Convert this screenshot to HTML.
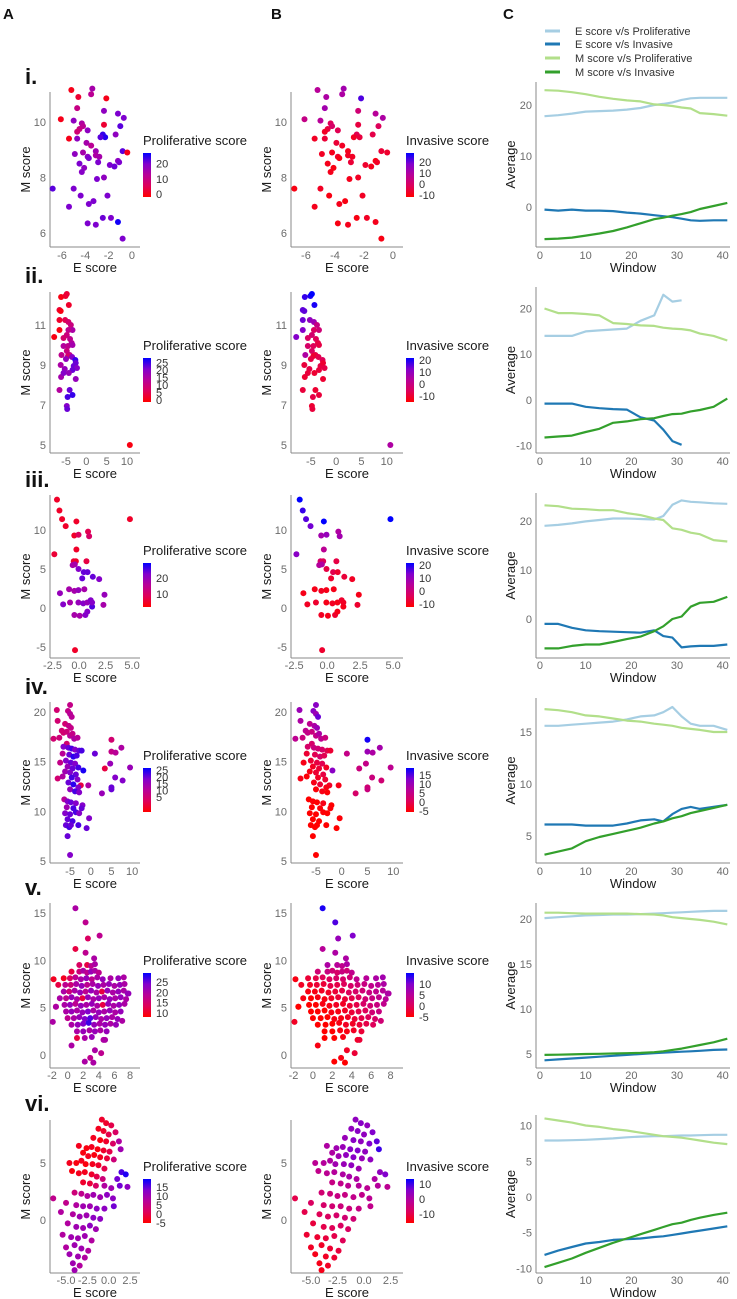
<!DOCTYPE html>
<html><head><meta charset="utf-8"><style>
html,body{margin:0;padding:0;background:#fff;}
svg{display:block;font-family:"Liberation Sans",sans-serif;}
.tk{fill:#6b6b6b;font-size:11px;}
.ti{fill:#1a1a1a;font-size:13px;}
</style></head><body>
<svg id="fig" width="737" height="1299" viewBox="0 0 737 1299">
<defs>
<linearGradient id="cg" x1="0" y1="1" x2="0" y2="0">
<stop offset="0" stop-color="#ff0000"/><stop offset="0.25" stop-color="#de005a"/><stop offset="0.5" stop-color="#b80098"/><stop offset="0.75" stop-color="#8200cd"/><stop offset="1" stop-color="#0000ff"/>
</linearGradient>
</defs>
<text x="3" y="19" font-size="15" font-weight="bold" fill="#111">A</text>
<text x="271" y="19" font-size="15" font-weight="bold" fill="#111">B</text>
<text x="503" y="19" font-size="15" font-weight="bold" fill="#111">C</text>
<g>
<line x1="545" y1="31" x2="560" y2="31" stroke="#a6cee3" stroke-width="3"/>
<text x="575" y="35" font-size="11" fill="#333">E score v/s Proliferative</text>
<line x1="545" y1="44" x2="560" y2="44" stroke="#1f78b4" stroke-width="3"/>
<text x="575" y="48" font-size="11" fill="#333">E score v/s Invasive</text>
<line x1="545" y1="58" x2="560" y2="58" stroke="#b2df8a" stroke-width="3"/>
<text x="575" y="62" font-size="11" fill="#333">M score v/s Proliferative</text>
<line x1="545" y1="72" x2="560" y2="72" stroke="#33a02c" stroke-width="3"/>
<text x="575" y="76" font-size="11" fill="#333">M score v/s Invasive</text>
</g>
</svg>
<script>
// ---------- scatter data: [E score, M score, Proliferative score, Invasive score] ----------
const scatter1 = [[-5.2,11.15,0,8],[-4.6,10.9,2,10],[-3.4,11.2,15,12],[-3.5,11.0,12,10],[-2.2,10.85,0,22],[-4.7,10.5,10,12],[-6.1,10.1,0,5],[-5.0,10.05,18,8],[-4.3,9.95,14,-2],[-4.2,9.85,12,0],[-4.5,9.75,10,-5],[-4.7,9.65,8,-8],[-3.8,9.7,18,-3],[-2.4,10.4,18,2],[-2.4,9.9,2,-5],[-2.5,9.55,24,-3],[-2.3,9.45,25,-5],[-2.7,9.45,22,-8],[-1.2,10.3,20,8],[-0.7,10.15,20,10],[-1.0,9.85,22,-2],[-1.4,9.55,18,-4],[-5.4,9.4,0,-8],[-4.7,9.4,18,-6],[-3.9,9.25,15,-6],[-3.5,9.15,12,-8],[-3.1,8.95,16,-9],[-4.9,8.85,18,-8],[-4.2,8.9,15,-9],[-3.8,8.75,18,-7],[-3.7,8.7,20,-10],[-3.1,8.8,14,-8],[-4.5,8.5,20,-9],[-4.1,8.35,18,-10],[-4.3,8.2,19,-9],[-2.8,8.75,15,-8],[-2.9,8.55,20,-6],[-1.9,8.45,20,-7],[-1.5,8.4,21,-9],[-1.2,8.6,18,-10],[-1.1,8.55,20,-8],[-0.8,8.95,22,-6],[-0.4,8.9,0,-7],[-3.0,7.95,20,-9],[-2.4,8.0,18,-8],[-6.8,7.6,22,-10],[-5.0,7.6,20,-8],[-4.4,7.35,20,-10],[-5.4,6.95,20,-9],[-3.7,7.05,20,-9],[-3.3,7.15,20,-10],[-2.1,7.35,20,-8],[-3.8,6.35,20,-10],[-3.1,6.3,20,-9],[-2.5,6.55,21,-10],[-1.8,6.55,20,-8],[-1.2,6.4,26,-9],[-0.8,5.8,20,-10]];
const scatter2 = [[-6.2,12.4,0,18],[-5.1,12.45,2,20],[-4.8,12.55,3,22],[-4.3,12.0,2,20],[-6.6,11.75,3,15],[-6.3,11.7,0,15],[-6.6,11.25,2,14],[-5.2,11.25,5,10],[-4.4,11.15,8,8],[-6.6,10.75,0,12],[-7.9,10.4,0,12],[-3.8,11.0,10,0],[-3.4,10.75,15,-2],[-4.4,10.75,12,-5],[-4.8,10.5,10,-3],[-5.6,10.35,8,-5],[-4.0,10.3,12,-6],[-3.6,10.1,14,-8],[-5.6,9.95,14,-4],[-4.5,9.95,12,-6],[-3.4,10.0,16,-8],[-4.8,9.7,10,-5],[-4.1,9.5,12,-8],[-4.5,9.45,8,-10],[-3.5,9.4,20,-7],[-6.1,9.5,12,5],[-5.0,9.3,18,-8],[-6.3,9.0,15,-9],[-5.3,8.8,18,-8],[-6.2,8.4,16,-10],[-3.1,8.95,22,-8],[-2.7,9.25,25,-6],[-2.6,9.1,22,-10],[-2.3,8.85,20,-8],[-3.4,8.75,22,-9],[-2.6,8.3,18,-10],[-5.6,8.6,20,-9],[-4.3,8.6,18,-10],[-6.6,7.75,14,-9],[-4.1,7.75,22,-10],[-4.6,7.4,24,-8],[-3.4,7.5,25,-9],[-4.8,6.95,20,-10],[-4.7,6.8,22,-9],[10.7,5.0,0,5]];
const scatter3 = [[-2.08,13.9,5,22],[-1.85,12.5,5,18],[-1.6,11.4,5,16],[-1.26,10.5,5,14],[-2.33,6.9,6,12],[-0.25,11.1,5,22],[-0.45,9.3,5,8],[-0.05,9.4,9,10],[0.85,9.8,8,6],[0.95,9.2,10,8],[-0.25,7.5,5,4],[-0.5,6.0,6,-2],[-0.3,6.0,5,-4],[0.7,6.0,7,-6],[-0.6,5.5,18,5],[-0.4,5.6,18,6],[-0.05,5.0,22,-6],[0.45,4.6,24,-5],[0.8,4.6,24,-8],[0.3,3.8,24,-8],[1.3,4.0,24,-7],[1.9,3.7,22,-9],[-1.8,1.9,20,-10],[-1.5,0.47,22,-9],[-0.94,2.4,18,-10],[-0.85,0.7,18,-8],[-0.44,2.2,18,-9],[-0.06,2.3,20,-10],[0.5,2.4,18,-10],[-0.44,-0.9,18,-9],[0.06,-1.0,18,-10],[0.6,-0.9,22,-8],[0.78,-0.47,22,-10],[-0.06,0.7,20,-10],[0.4,0.6,22,-9],[0.78,0.7,20,-10],[1.1,1.0,22,-8],[1.23,0.17,25,-10],[1.23,0.7,22,-9],[2.4,1.7,20,-10],[2.3,0.4,18,-8],[-0.38,-5.4,5,-8],[4.8,11.4,5,22]];
const scatter4 = [[-8.2,20.2,5,10],[-5.0,20.7,8,12],[-5.5,20.1,8,12],[-5.0,19.8,10,10],[-4.6,19.5,10,14],[-8.0,19.1,5,8],[-6.2,18.8,5,6],[-5.3,18.6,8,8],[-4.8,18.4,8,10],[-7.0,18.1,5,6],[-6.6,17.9,5,5],[-5.8,18.0,6,4],[-5.0,17.6,10,5],[-4.4,17.8,8,8],[-9.0,17.3,5,6],[-7.6,17.4,6,4],[-4.0,17.3,12,6],[-3.2,17.4,10,4],[-5.8,16.8,5,2],[-6.6,16.5,18,2],[-5.4,16.4,20,4],[-4.6,16.3,22,3],[-3.8,16.2,18,2],[-2.8,16.1,20,0],[-2.2,16.1,22,-2],[-6.8,15.8,10,-2],[-5.2,15.7,20,0],[-4.2,15.5,24,2],[-3.4,15.6,22,0],[-7.4,14.9,8,-4],[-6.0,15.1,18,-2],[-4.8,14.9,20,-1],[-3.8,14.8,18,0],[-5.6,14.5,15,-3],[-4.4,14.3,20,-2],[-3.0,14.4,22,-3],[-6.2,14.0,14,-4],[-5.0,13.9,18,-2],[-3.6,13.7,20,-1],[-1.8,14.1,25,12],[-8.0,13.3,5,-4],[-6.8,13.5,12,-5],[-4.6,13.4,22,-3],[-3.2,13.2,18,-2],[-5.4,12.9,20,-4],[-4.2,12.7,24,-2],[-2.4,12.6,0,-3],[-3.0,12.4,18,-4],[-0.6,12.6,12,-4],[-5.0,12.2,16,-5],[-3.8,12.0,22,-4],[-2.8,11.9,18,-5],[-6.4,11.2,10,-6],[-5.6,11.0,18,-5],[-4.8,10.9,20,-6],[-3.6,10.8,18,-4],[-5.8,10.4,14,-6],[-4.2,10.3,22,-5],[-2.0,10.6,18,-6],[-2.2,10.3,20,-5],[-6.2,9.8,18,-7],[-5.0,9.7,20,-6],[-3.6,9.9,22,-5],[-2.8,9.8,18,-7],[-5.6,9.2,20,-6],[-4.4,9.0,22,-7],[-0.4,9.3,18,-5],[-6.0,8.6,20,-7],[-5.2,8.4,22,-6],[-4.8,8.6,20,-7],[-3.0,8.6,22,-6],[-1.0,8.3,20,-7],[-5.6,7.5,20,-8],[-5.0,5.6,18,-8],[1.0,15.8,20,5],[3.4,14.3,0,4],[4.7,14.8,15,5],[5.0,17.2,5,18],[5.0,16.0,8,10],[6.0,15.9,10,8],[7.4,16.4,12,9],[9.5,14.4,15,6],[5.9,13.4,18,4],[5.0,12.4,20,3],[5.0,12.2,20,4],[7.7,13.1,18,3],[2.7,11.8,15,2]];
const scatter5 = [[1.5,9.5,14,6],[2.5,9.5,12,5],[3.0,9.4,18,4],[3.5,9.6,20,6],
[0.5,8.8,12,2],[1.5,8.8,16,3],[2.0,8.9,20,2],[2.5,8.7,18,1],[3.0,8.8,22,3],[3.5,8.9,20,2],[4.0,8.7,18,4],
[-0.5,8.1,10,-2],[0.3,8.1,14,-1],[1.0,8.2,18,0],[1.7,8.0,20,0],[2.4,8.1,22,1],[3.1,8.0,18,1],[3.8,8.2,20,2],[4.5,8.0,22,4],[5.5,8.1,20,5],[6.5,8.1,22,6],
[-1.2,7.4,12,-3],[-0.3,7.4,18,-3],[0.4,7.4,16,-2],[1.1,7.5,20,-2],[1.8,7.3,22,-1],[2.5,7.4,18,-1],[3.2,7.5,20,0],[3.9,7.3,22,1],[4.6,7.4,20,2],[5.3,7.5,22,3],[6.0,7.3,20,4],[6.7,7.4,22,5],[7.3,7.5,20,6],
[-0.5,6.7,20,-4],[0.2,6.7,16,-4],[0.9,6.8,20,-3],[1.6,6.6,22,-3],[2.3,6.7,18,-2],[3.0,6.8,22,-1],[3.7,6.6,20,0],[4.4,6.7,12,1],[5.1,6.8,22,2],[5.8,6.6,20,3],[6.5,6.7,22,4],[7.2,6.8,20,5],[7.8,6.5,22,6],
[-1.0,6.0,20,-4],[-0.2,6.0,18,-5],[0.5,6.1,22,-4],[1.2,5.9,20,-4],[1.9,6.0,12,-3],[2.6,6.1,22,-2],[3.3,5.9,20,-2],[4.0,6.0,22,-1],[4.7,6.1,20,0],[5.4,5.9,22,2],[6.1,6.0,20,3],[6.8,6.1,22,4],[7.5,5.9,20,5],
[-1.5,5.1,12,-5],[-0.4,5.3,20,-5],[0.3,5.3,22,-5],[1.0,5.4,18,-4],[1.7,5.2,22,-4],[2.4,5.3,20,-3],[3.1,5.4,22,-3],[3.8,5.2,20,-2],[4.5,5.3,12,-1],[5.2,5.4,22,1],[5.9,5.2,20,2],[6.6,5.3,22,3],[7.3,5.4,20,4],
[-0.2,4.6,20,-5],[0.5,4.6,22,-5],[1.2,4.7,20,-5],[1.9,4.5,22,-4],[2.6,4.6,24,-4],[3.3,4.7,20,-3],[4.0,4.5,22,-2],[4.7,4.6,20,-1],[5.4,4.7,22,0],[6.1,4.5,20,2],[6.8,4.6,22,3],
[0.0,3.9,18,-5],[0.8,3.9,20,-5],[1.5,4.0,22,-5],[2.2,3.8,24,-4],[2.9,3.9,26,-4],[3.6,4.0,22,-3],[4.3,3.8,20,-2],[5.0,3.9,22,-1],[5.7,4.0,20,0],[6.4,3.8,22,1],[7.0,3.6,20,2],
[0.5,3.2,20,-5],[1.3,3.2,22,-5],[2.0,3.3,24,-5],[2.7,3.4,27,-4],[3.4,3.2,22,-3],[4.1,3.3,20,-3],[4.8,3.2,22,-2],[5.5,3.3,20,-1],[6.2,3.2,22,0],
[1.2,2.5,20,-5],[2.0,2.5,22,-5],[2.8,2.6,20,-4],[3.5,2.5,22,-4],[4.2,2.6,20,-3],[5.0,2.5,22,-2],
[1.2,1.8,12,-5],[2.2,1.8,20,-5],[3.1,1.9,22,-4],[4.6,1.6,20,-3],
[1.0,15.5,20,14],[2.3,14.0,18,12],[2.6,12.3,14,8],[4.1,12.6,18,10],[1.0,11.2,12,5],[2.3,10.8,18,6],[3.4,10.2,20,6],[-1.8,8.0,10,-4],[-1.5,5.1,20,-5],[-1.9,3.5,20,-3],[0.5,1.0,20,-4],[2.2,-0.7,20,-5],[2.9,-0.3,18,-4],[3.3,-0.8,20,-5],[3.5,0.5,20,-3],[4.3,0.2,18,-2],[4.8,1.6,20,-2],[7.7,6.5,22,6],[7.2,8.2,20,7]];
const scatter6 = [[-0.8,8.8,-2,4],[-0.3,8.5,-2,5],[0.3,8.3,0,4],[0.8,7.7,2,6],[-1.2,8.0,-3,4],[-0.6,7.8,-2,5],[0,7.5,0,4],[1.2,6.9,8,8],[-1.8,7.2,-3,3],[-1.0,7.0,-4,5],[-0.3,6.9,-2,4],[0.5,6.7,2,6],[1.4,6.2,10,10],[-3.5,6.5,-3,0],[-2.6,6.3,-4,2],[-2.0,6.4,-3,3],[-1.3,6.2,-4,5],[-0.6,6.1,-2,6],[0.1,6.0,0,4],[-3.0,5.9,-4,0],[-2.4,5.6,-3,2],[-1.7,5.7,-4,4],[-1.0,5.5,-3,5],[-0.2,5.4,-1,3],[0.6,5.3,4,4],[-4.6,5.0,-3,-2],[-3.8,5.0,-4,-1],[-3.2,5.2,-3,0],[-2.7,4.9,-4,2],[-1.9,4.9,-3,3],[-1.2,4.8,-2,4],[-0.5,4.5,0,2],[-4.3,4.3,-4,-3],[-3.5,4.1,-3,-2],[-2.8,4.2,-3,-1],[-2.0,4.0,-2,0],[-1.4,3.8,0,1],[-0.7,3.6,4,0],[1.5,4.2,16,4],[2.0,4.0,18,6],[1.0,3.6,14,0],[-3.0,3.3,-2,-4],[-2.2,3.2,-1,-3],[-1.5,3.0,2,-2],[-0.5,3.0,8,-1],[0.3,2.8,10,-2],[1.3,3.0,14,-1],[2.2,2.9,12,-2],
[-4.0,2.4,4,-6],[-3.2,2.3,6,-5],[-2.5,2.1,8,-4],[-1.8,2.2,10,-4],[-1.0,2.0,10,-3],[-0.2,2.2,12,-3],[0.5,1.9,12,-2],[-6.5,1.9,6,-10],[-5.0,1.5,6,-8],[-3.8,1.3,8,-7],[-3.0,1.2,10,-6],[-2.2,1.2,10,-5],[-1.4,1.0,12,-5],[-0.5,1.0,12,-4],[0.6,1.2,14,-3],[-5.6,0.7,8,-10],[-4.2,0.5,8,-9],[-3.4,0.3,10,-8],[-2.6,0.4,10,-7],[-1.8,0.2,12,-6],[-1.0,0.1,12,-6],[-4.8,-0.3,8,-11],[-3.8,-0.6,10,-10],[-3.0,-0.7,10,-9],[-2.2,-0.5,12,-8],[-1.5,-0.8,10,-8],[-5.4,-1.3,8,-12],[-4.4,-1.5,10,-12],[-3.6,-1.6,10,-11],[-2.8,-1.4,10,-10],[-2.0,-1.8,8,-9],[-4.0,-2.2,10,-13],[-3.2,-2.5,10,-12],[-2.4,-2.7,8,-11],[-5.0,-2.4,8,-13],[-4.6,-3.0,10,-14],[-3.6,-3.2,10,-13],[-2.8,-3.3,8,-12],[-4.2,-3.8,10,-14],[-3.4,-4.0,8,-13],[-4.0,-4.4,10,-14]];

// ---------- sliding-window averages (panel C) ----------
const windows = [1,4,7,10,13,16,19,22,25,27,29,31,33,35,38,41];
const r1EP=[17.8,18.0,18.3,18.7,18.8,18.9,19.1,19.4,20.0,20.2,20.5,21.0,21.3,21.4,21.4,21.4];
const r1EI=[-0.5,-0.7,-0.5,-0.7,-0.7,-0.8,-1.1,-1.3,-1.6,-1.8,-2.0,-2.3,-2.6,-2.7,-2.6,-2.6];
const r1MP=[22.9,22.8,22.5,22.1,21.6,21.2,20.9,20.7,20.1,20.0,19.8,19.5,19.3,18.4,18.2,17.9];
const r1MI=[-6.3,-6.2,-6.0,-5.6,-5.2,-4.7,-4.0,-3.2,-2.4,-2.1,-1.7,-1.4,-1.0,-0.4,0.2,0.8];
const r2EP=[14,14,14,15,15.2,15.4,15.6,17.3,18.5,23,21.5,21.8,null,null,null,null];
const r2EI=[-0.8,-0.8,-0.8,-1.5,-1.8,-2,-2.1,-3.8,-4.5,-6.5,-9,-9.8,null,null,null,null];
const r2MP=[20,19,19,18.8,18.5,16.8,16.6,16.3,16.2,15.8,15.6,15.5,15.2,14.5,14,13];
const r2MI=[-8.2,-8,-7.8,-7,-6.3,-5,-4.7,-4.2,-4,-3.5,-3.1,-3,-2.5,-2.2,-1.5,0.3];
const r3EP=[19,19.2,19.5,19.9,20.2,20.5,20.5,20.4,20.3,21,23.3,24.2,23.9,23.8,23.6,23.5];
const r3EI=[-1,-1,-1.8,-2.3,-2.5,-2.6,-2.7,-2.8,-2.3,-3.5,-3.8,-5.8,-5.6,-5.5,-5.5,-5.2];
const r3MP=[23.2,23,22.5,22.4,22.2,22.2,21.6,21.2,20.5,20.2,18.5,18.2,17.6,17.3,16.1,15.8];
const r3MI=[-6,-6,-5.5,-5.2,-5.2,-4.7,-4.1,-3.6,-2.5,-1.5,0,0.5,2.5,3.3,3.5,4.5];
const r4EP=[15.6,15.6,15.7,15.8,15.9,16,16.2,16.5,16.6,16.9,17.4,16.5,15.8,15.6,15.6,15.2];
const r4EI=[6.1,6.1,6.1,6.0,6.0,6.0,6.2,6.5,6.6,6.4,7.1,7.6,7.8,7.6,7.8,8.0];
const r4MP=[17.2,17.1,16.9,16.6,16.5,16.3,16.1,16.0,15.8,15.7,15.6,15.4,15.3,15.2,15.0,15.0];
const r4MI=[3.2,3.5,3.8,4.5,4.9,5.2,5.5,5.8,6.2,6.4,6.7,6.9,7.2,7.4,7.7,8.0];
const r5EP=[20.1,20.2,20.3,20.4,20.45,20.5,20.5,20.55,20.6,20.65,20.7,20.75,20.8,20.85,20.9,20.9];
const r5EI=[4.3,4.4,4.5,4.6,4.7,4.8,4.9,5.0,5.1,5.15,5.2,5.25,5.3,5.35,5.45,5.5];
const r5MP=[20.7,20.7,20.65,20.6,20.6,20.6,20.6,20.55,20.5,20.4,20.2,20.1,20.0,19.9,19.7,19.4];
const r5MI=[4.9,4.92,4.95,5.0,5.02,5.05,5.08,5.12,5.2,5.3,5.45,5.6,5.8,6.0,6.3,6.7];
const r6EP=[7.9,7.9,7.95,8.0,8.1,8.2,8.35,8.45,8.5,8.5,8.55,8.6,8.6,8.65,8.7,8.7];
const r6EI=[-8.1,-7.5,-7.0,-6.5,-6.3,-6.0,-5.9,-5.8,-5.6,-5.5,-5.3,-5.1,-4.9,-4.7,-4.4,-4.1];
const r6MP=[11,10.7,10.4,10,9.8,9.5,9.3,9.0,8.7,8.5,8.4,8.3,8.1,7.9,7.6,7.4];
const r6MI=[-9.8,-9.2,-8.6,-7.8,-7.1,-6.4,-5.8,-5.2,-4.6,-4.2,-3.8,-3.6,-3.2,-2.9,-2.5,-2.2];

// tick labels
const windowTicks = [0,10,20,30,40];
const xTicks1=[-6,-4,-2,0], yTicks1=[10,8,6], cTicks1=[20,10,0];
const xTicks2=[-5,0,5,10], yTicks2=[11,9,7,5], cTicks2=[20,10,0,-10];
const xTicks3=[-2.5,0,2.5,5], yTicks3=[10,5,0,-5], cTicks3=[20,10,0];
const xTicks4=[-5,0,5,10], yTicks4=[20,15,10,5], cTicks4=[15,10,5];
const xTicks5=[-2,0,2,4,6,8], yTicks5=[15,10,5,0], cTicks5=[20,15,10,5];
const xTicks6=[-5,-2.5,0,2.5], yTicks6=[5,0], cTicks6=[10,5,0,-5,-10];
const profTicks1=[0,10,20], invTicks1=[-10,0,10,20];
const profTicks2=[0,5,10,15,20,25], invTicks2=[-10,0,10,20];
const profTicks3=[10,20], invTicks3=[-10,0,10,20];
const profTicks4=[5,10,15,20,25], invTicks4=[-5,0,5,10,15];
const profTicks5=[10,15,20,25], invTicks5=[-5,0,5,10];
const profTicks6=[-5,0,5,10,15], invTicks6=[-10,0,10];

// ---------- layout (pixels) ----------
const rows = [
 {lab:'i.',labY:84,T:92,B:247,tk:259,ti:272,cT:82,xd:[-7.03,0.69],yd:[5.5,11.08],cd:[-7.84,24.5],pd:[-2,27],id:[-12,28],bar:153,data:scatter1,xt:xTicks1,yt:yTicks1,ct:cTicks1,pt:profTicks1,it:invTicks1,s:[r1EP,r1EI,r1MP,r1MI],fx:0},
 {lab:'ii.',labY:283,T:292,B:453,tk:465,ti:478,cT:287,xd:[-8.93,13.2],yd:[4.6,12.65],cd:[-11.6,24.7],pd:[-1.5,28],id:[-15,21.7],bar:358,data:scatter2,xt:xTicks2,yt:yTicks2,ct:cTicks2,pt:profTicks2,it:invTicks2,s:[r2EP,r2EI,r2MP,r2MI],fx:0},
 {lab:'iii.',labY:487,T:495,B:658,tk:669,ti:682,cT:493,xd:[-2.74,5.75],yd:[-6.41,14.49],cd:[-7.96,25.7],pd:[1.9,29.4],id:[-12.3,21.5],bar:563,data:scatter3,xt:xTicks3,yt:yTicks3,ct:cTicks3,pt:profTicks3,it:invTicks3,s:[r3EP,r3EI,r3MP,r3MI],fx:1},
 {lab:'iv.',labY:694,T:702,B:863,tk:875,ti:888,cT:698,xd:[-9.85,11.9],yd:[4.79,21.0],cd:[2.4,18.27],pd:[-6,26.6],id:[-5.5,19],bar:768,data:scatter4,xt:xTicks4,yt:yTicks4,ct:cTicks4,pt:profTicks4,it:invTicks4,s:[r4EP,r4EI,r4MP,r4MI],fx:0},
 {lab:'v.',labY:895,T:903,B:1068,tk:1079,ti:1092,cT:903,xd:[-2.26,9.28],yd:[-1.37,16.05],cd:[3.44,21.78],pd:[8.1,29.4],id:[-5,15],bar:973,data:scatter5,xt:xTicks5,yt:yTicks5,ct:cTicks5,pt:profTicks5,it:invTicks5,s:[r5EP,r5EI,r5MP,r5MI],fx:0},
 {lab:'vi.',labY:1111,T:1120,B:1273,tk:1284,ti:1297,cT:1115,xd:[-6.88,3.67],yd:[-4.65,8.77],cd:[-10.63,11.47],pd:[-5,19.4],id:[-16,13.3],bar:1179,data:scatter6,xt:xTicks6,yt:yTicks6,ct:cTicks6,pt:profTicks6,it:invTicks6,s:[r6EP,r6EI,r6MP,r6MI],fx:1}
];
const seriesColors=['#a6cee3','#1f78b4','#b2df8a','#33a02c'];
const seriesNames=['e-vs-proliferative','e-vs-invasive','m-vs-proliferative','m-vs-invasive'];
const stops=[[255,0,0],[222,0,90],[184,0,152],[130,0,205],[0,0,255]];
const NS='http://www.w3.org/2000/svg';
const svg=document.getElementById('fig');
function el(tag,attrs,parent){const e=document.createElementNS(NS,tag);for(const k in attrs)e.setAttribute(k,attrs[k]);(parent||svg).appendChild(e);return e;}
function colorFor(v,d){let t=(v-d[0])/(d[1]-d[0]);t=Math.max(0,Math.min(1,t));const f=t*4,i=Math.min(3,Math.floor(f)),u=f-i;const a=stops[i],b=stops[i+1];return 'rgb('+[0,1,2].map(k=>Math.round(a[k]+(b[k]-a[k])*u)).join(',')+')';}
function lin(d,r){return v=>r[0]+(v-d[0])/(d[1]-d[0])*(r[1]-r[0]);}

rows.forEach((r,ri)=>{
 const g=el('g',{});
 
 
 const lt=el('text',{x:25,y:r.labY,'font-size':22,'font-weight':'bold',fill:'#111'},g);
 
 
 lt.textContent=r.lab;
 [{x0:50,w:90,leg:143,ci:2,title:'Proliferative score',d:r.pd,ticks:r.pt,key:'a'},{x0:291,w:112,leg:406,ci:3,title:'Invasive score',d:r.id,ticks:r.it,key:'b'}].forEach(p=>{
  const pg=el('g',{},g);
  
  
  const xs=lin(r.xd,[p.x0,p.x0+p.w]), ys=lin(r.yd,[r.B,r.T]);
  const ya=el('line',{x1:p.x0,y1:r.T,x2:p.x0,y2:r.B,stroke:'#888','stroke-width':1},pg);
  
  
  const xa=el('line',{x1:p.x0,y1:r.B,x2:p.x0+p.w,y2:r.B,stroke:'#888','stroke-width':1},pg);
  
  
  r.yt.forEach(v=>{const t=el('text',{x:p.x0-4,y:ys(v)+4,'text-anchor':'end',class:'tk'},pg);
   
   
   t.textContent=String(v);});
  r.xt.forEach(v=>{const t=el('text',{x:xs(v),y:r.tk,'text-anchor':'middle',class:'tk'},pg);
   
   
   t.textContent=r.fx?v.toFixed(1):String(v);});
  const xt=el('text',{x:p.x0+p.w/2,y:r.ti,'text-anchor':'middle',class:'ti'},pg);
  
  
  xt.textContent='E score';
  const cy=(r.T+r.B)/2, cx=p.x0-20;
  const yt=el('text',{x:cx,y:cy,'text-anchor':'middle',class:'ti',transform:'rotate(-90 '+cx+' '+cy+')'},pg);
  
  
  yt.textContent='M score';
  r.data.forEach(pt=>{const c=el('circle',{cx:xs(pt[0]),cy:ys(pt[1]),r:3,fill:colorFor(pt[p.ci],p.d)},pg);
   
   });
  const lg=el('g',{},pg);
  
  
  const ltt=el('text',{x:p.leg,y:r.bar-8,class:'ti'},lg);
  
  
  ltt.textContent=p.title;
  const bar=el('rect',{x:p.leg,y:r.bar,width:8,height:44,fill:'url(#cg)'},lg);
  
  
  const bs=lin(p.d,[r.bar+44,r.bar]);
  p.ticks.forEach(v=>{const t=el('text',{x:p.leg+13,y:bs(v)+4,'font-size':11,fill:'#333'},lg);
   
   
   t.textContent=String(v);});
 });
 const cg=el('g',{},g);
 
 
 const wx=lin([-0.87,41.6],[536,730]), cy=lin(r.cd,[r.B,r.cT]);
 const a1=el('line',{x1:536,y1:r.cT,x2:536,y2:r.B,stroke:'#888'},cg);
 
 
 const a2=el('line',{x1:536,y1:r.B,x2:730,y2:r.B,stroke:'#888'},cg);
 
 
 r.ct.forEach(v=>{const t=el('text',{x:532,y:cy(v)+4,'text-anchor':'end',class:'tk'},cg);
  
  
  t.textContent=String(v);});
 windowTicks.forEach(v=>{const t=el('text',{x:wx(v),y:r.tk,'text-anchor':'middle',class:'tk'},cg);
  
  
  t.textContent=String(v);});
 const wt=el('text',{x:633,y:r.ti,'text-anchor':'middle',class:'ti'},cg);
 
 
 wt.textContent='Window';
 const my=(r.cT+r.B)/2;
 const at=el('text',{x:515,y:my,'text-anchor':'middle',class:'ti',transform:'rotate(-90 515 '+my+')'},cg);
 
 
 at.textContent='Average';
 r.s.forEach((vals,si)=>{let d='';let pen=false;
  vals.forEach((v,k)=>{if(v===null){pen=false;return;}d+=(pen?'L':'M')+wx(windows[k]).toFixed(1)+' '+cy(v).toFixed(1)+' ';pen=true;});
  const pth=el('path',{d:d,fill:'none',stroke:seriesColors[si],'stroke-width':2.2,'stroke-linejoin':'round'},cg);
  
  });
});
</script>
</body></html>
